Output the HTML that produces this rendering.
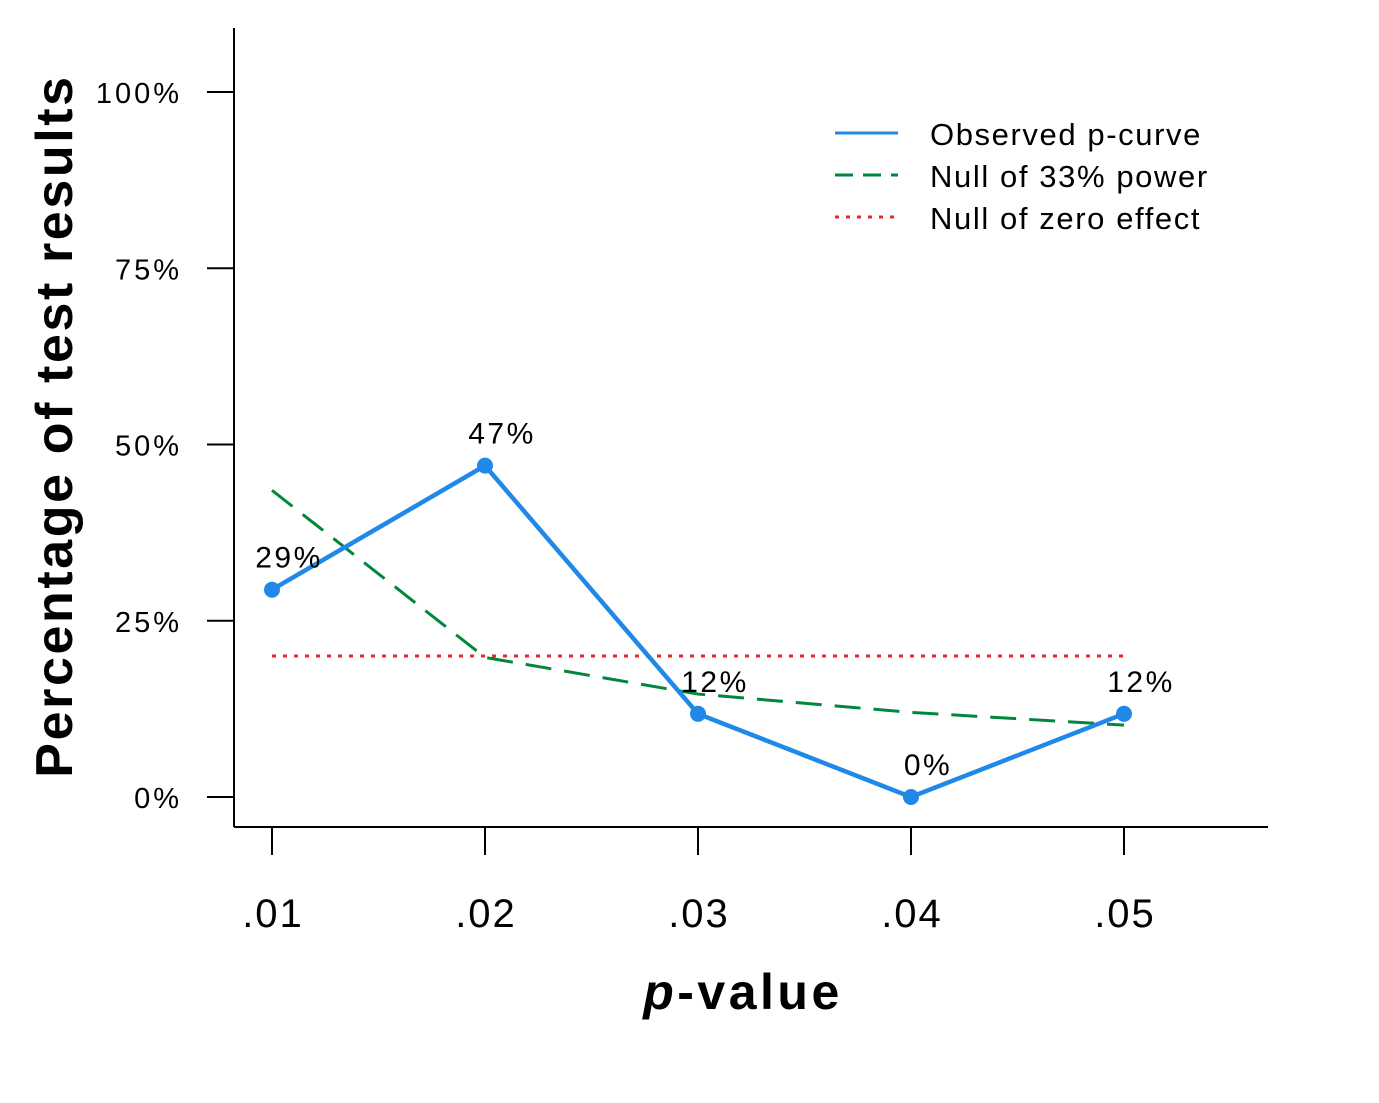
<!DOCTYPE html>
<html><head><meta charset="utf-8"><style>
body{margin:0;background:#fff}
svg{display:block;font-family:"Liberation Sans",sans-serif}
</style></head><body>
<svg id="c" width="1379" height="1103" viewBox="0 0 1379 1103">
<g id="axes"></g><g id="marks"></g>
<g letter-spacing="1.6">
<line x1="835" y1="133" x2="898" y2="133" stroke="#1f88e8" stroke-width="3"/>
<text x="930" y="145" font-size="31">Observed p-curve</text>
<line x1="835" y1="175" x2="898" y2="175" stroke="#00873c" stroke-width="3" stroke-dasharray="18,10"/>
<text x="930" y="187" font-size="31">Null of 33% power</text>
<line x1="835" y1="217" x2="898" y2="217" stroke="#e82828" stroke-width="3" stroke-dasharray="4,7"/>
<text x="930" y="229" font-size="31">Null of zero effect</text>
</g>
<text transform="translate(72,426) rotate(-90)" text-anchor="middle" font-size="52" font-weight="bold" letter-spacing="2.6">Percentage of test results</text>
<text x="743" y="1009" text-anchor="middle" font-size="50" font-weight="bold" letter-spacing="3.5"><tspan font-style="italic">p</tspan>-value</text>
</svg>
<script>
const categories=[".01",".02",".03",".04",".05"];
const observed=[29.4,47,11.8,0,11.8];
const obsLabels=["29%","47%","12%","0%","12%"];
const null33=[43.5,19.8,14.6,12,10.2];
const nullZero=[20,20,20,20,20];
const yTicks=[0,25,50,75,100];
const X=i=>272+i*213, Y=v=>797-v*7.05;
const NS="http://www.w3.org/2000/svg";
function mk(t,a,p){const e=document.createElementNS(NS,t);for(const k in a)e.setAttribute(k,a[k]);p.appendChild(e);return e;}
const ax=document.getElementById('axes'),mg=document.getElementById('marks');
let e=mk('line',{x1:234,y1:28,x2:234,y2:827,stroke:'#000','stroke-width':2},ax);


e=mk('line',{x1:234,y1:827,x2:1268,y2:827,stroke:'#000','stroke-width':2},ax);


yTicks.forEach(v=>{
 mk('line',{x1:207,y1:Y(v),x2:234,y2:Y(v),stroke:'#000','stroke-width':2},ax);
 const t=mk('text',{x:182,y:Y(v)+11,'text-anchor':'end','font-size':29,'letter-spacing':3},ax);t.textContent=v+'%';
 
 
});
categories.forEach((c,i)=>{
 mk('line',{x1:X(i),y1:827,x2:X(i),y2:855,stroke:'#000','stroke-width':2},ax);
 const t=mk('text',{x:X(i)+1,y:927,'text-anchor':'middle','font-size':40,'letter-spacing':2},ax);t.textContent=c;
 
 
});
const pts=a=>a.map((v,i)=>X(i)+','+Y(v)).join(' ');
e=mk('polyline',{points:pts(nullZero),fill:'none',stroke:'#e82828','stroke-width':3,'stroke-dasharray':'4,7'},mg);


e=mk('polyline',{points:pts(null33),fill:'none',stroke:'#00873c','stroke-width':3,'stroke-dasharray':'26,13'},mg);


e=mk('polyline',{points:pts(observed),fill:'none',stroke:'#1f88e8','stroke-width':4.5},mg);


observed.forEach((v,i)=>{
 const p=mk('circle',{cx:X(i),cy:Y(v),r:8,fill:'#1f88e8'},mg);
 
 
 const t=mk('text',{x:X(i)+17,y:Y(v)-22,'text-anchor':'middle','font-size':30,'letter-spacing':2.5},mg);t.textContent=obsLabels[i];
 
 
});
</script>
</body></html>
